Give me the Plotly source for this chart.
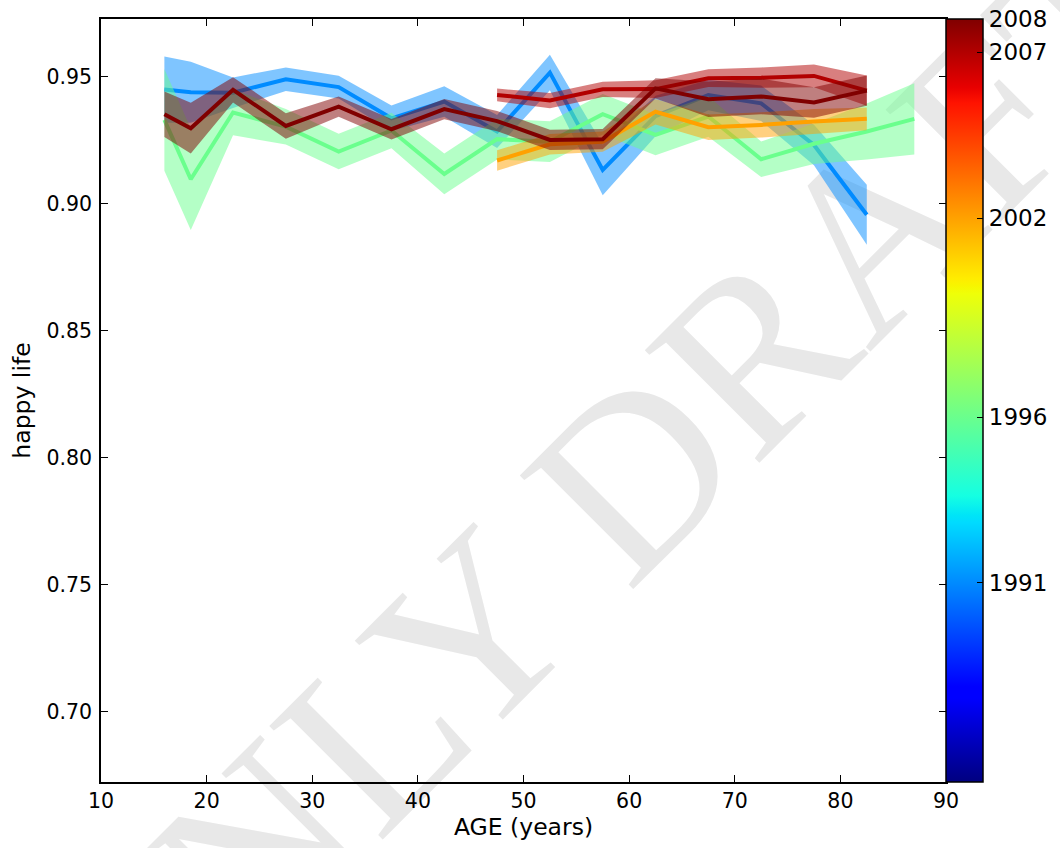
import numpy as np
import plotly.graph_objects as go

# ---------------- data ----------------
ages = [16, 18.5, 22.5, 27.5, 32.5, 37.5, 42.5, 47.5, 52.5, 57.5, 62.5, 67.5, 72.5, 77.5, 82.5]
ages_1996 = ages + [87]
ages_late = [47.5, 52.5, 57.5, 62.5, 67.5, 72.5, 77.5, 82.5]

y1991 = [0.9450, 0.9440, 0.9438, 0.9491, 0.9460, 0.9337, 0.9403, 0.9285, 0.9517, 0.9134, 0.9346, 0.9429, 0.9396, 0.9232, 0.8957]
hw1991 = [0.013, 0.012, 0.006, 0.0046, 0.0045, 0.005, 0.006, 0.0065, 0.007, 0.010, 0.008, 0.006, 0.007, 0.008, 0.0118]

y1996 = [0.9331, 0.9097, 0.9360, 0.9304, 0.9206, 0.9289, 0.9118, 0.9255, 0.9245, 0.9353, 0.9272, 0.9344, 0.9176, 0.9237, 0.9285, 0.9335]
hw1996 = [0.020, 0.020, 0.009, 0.007, 0.007, 0.007, 0.008, 0.008, 0.008, 0.008, 0.008, 0.008, 0.007, 0.008, 0.011, 0.014]

y2002 = [0.9171, 0.9235, 0.9245, 0.9363, 0.9302, 0.9311, 0.9324, 0.9335]
hw2002 = [0.004, 0.004, 0.004, 0.005, 0.005, 0.005, 0.005, 0.0045]

y2007 = [0.9429, 0.9407, 0.9451, 0.9452, 0.9495, 0.9497, 0.9504, 0.9446]
hw2007 = [0.0025, 0.003, 0.003, 0.0035, 0.0035, 0.004, 0.0045, 0.006]

y2008 = [0.9353, 0.9298, 0.9449, 0.9307, 0.9383, 0.9294, 0.9373, 0.9326, 0.9252, 0.9255, 0.9455, 0.9412, 0.9423, 0.9399, 0.9446]
hw2008 = [0.009, 0.010, 0.005, 0.005, 0.004, 0.004, 0.004, 0.004, 0.004, 0.004, 0.004, 0.007, 0.007, 0.006, 0.006]

series = [
    (1991, ages, y1991, hw1991),
    (1996, ages_1996, y1996, hw1996),
    (2002, ages_late, y2002, hw2002),
    (2007, ages_late, y2007, hw2007),
    (2008, ages, y2008, hw2008),
]

cbar_min, cbar_max = 1985, 2008
cbar_ticks = [1991, 1996, 2002, 2007, 2008]
x_ticks = [10, 20, 30, 40, 50, 60, 70, 80, 90]
y_ticks = [0.70, 0.75, 0.80, 0.85, 0.90, 0.95]

# ---------------- matplotlib "jet" colormap ----------------
_r = ([0, 0.35, 0.66, 0.89, 1], [0, 0, 1, 1, 0.5])
_g = ([0, 0.125, 0.375, 0.64, 0.91, 1], [0, 0, 1, 1, 0, 0])
_b = ([0, 0.11, 0.34, 0.65, 1], [0.5, 1, 1, 0, 0])


def jet(f):
    r = np.interp(f, *_r)
    g = np.interp(f, *_g)
    b = np.interp(f, *_b)
    return int(round(r * 255)), int(round(g * 255)), int(round(b * 255))


stops = sorted(set(_r[0] + _g[0] + _b[0]))
jet_scale = [[s, "rgb(%d,%d,%d)" % jet(s)] for s in stops]

fig = go.Figure()

for year, xs, ys, hws in series:
    f = (year - cbar_min) / (cbar_max - cbar_min)
    r, g, b = jet(f)
    ys = np.array(ys)
    hws = np.array(hws)
    upper = ys + hws
    lower = ys - hws
    fig.add_trace(go.Scatter(
        x=list(xs) + list(xs)[::-1],
        y=list(upper) + list(lower)[::-1],
        fill="toself", fillcolor="rgba(%d,%d,%d,0.5)" % (r, g, b),
        line=dict(width=0), mode="lines", hoverinfo="skip", showlegend=False,
    ))
    fig.add_trace(go.Scatter(
        x=xs, y=ys, mode="lines",
        line=dict(color="rgb(%d,%d,%d)" % (r, g, b), width=4),
        showlegend=False, name=str(year),
    ))

# colorbar
fig.add_trace(go.Scatter(
    x=[None], y=[None], mode="markers", showlegend=False, hoverinfo="skip",
    marker=dict(
        color=[cbar_min], cmin=cbar_min, cmax=cbar_max, colorscale=jet_scale,
        showscale=True,
        colorbar=dict(
            thickness=37, thicknessmode="pixels", len=1, lenmode="fraction",
            x=1.0, xanchor="left", xpad=0, y=0.5, yanchor="middle", ypad=0,
            outlinewidth=1.5, outlinecolor="black",
            tickvals=cbar_ticks, ticktext=[str(t) for t in cbar_ticks],
            ticks="inside", ticklen=6, tickcolor="black", tickwidth=1,
            ticklabeloverflow="allow",
            tickfont=dict(family="DejaVu Sans", size=23, color="black"),
        ),
    ),
))

axis_common = dict(
    showline=True, linecolor="black", linewidth=1.5, mirror="ticks",
    ticks="inside", ticklen=7, tickwidth=1, tickcolor="black",
    showgrid=False, zeroline=False, automargin=False,
    tickfont=dict(family="DejaVu Sans", size=20.5, color="black"),
)

fig.update_layout(
    width=1060, height=848,
    margin=dict(l=101, r=114, t=19, b=66, autoexpand=False),
    paper_bgcolor="white", plot_bgcolor="rgba(0,0,0,0)",
    xaxis=dict(range=[10, 90], tickvals=x_ticks,
               title=dict(text="AGE (years)", font=dict(family="DejaVu Sans", size=23.5, color="black"), standoff=4),
               **axis_common),
    yaxis=dict(range=[0.6724, 0.9728], tickvals=y_ticks, tickformat=".2f",
               ticklabelstandoff=3,
               title=dict(text="happy life", font=dict(family="DejaVu Sans", size=23.5, color="black"), standoff=9),
               **axis_common),
    shapes=[dict(
        type="rect", xref="paper", yref="paper",
        x0=0.572 - 0.3, x1=0.572 + 0.3, y0=0.392 - 0.3, y1=0.392 + 0.3,
        line=dict(width=0), fillcolor="rgba(0,0,0,0)", layer="below",
        label=dict(text="ONLY DRAFT", textangle=-45, textposition="middle center",
                   font=dict(family="Liberation Serif", size=245, color="rgb(232,232,232)")),
    )],
)

fig.write_html("out.html", config={"displayModeBar": False},
               post_script="document.body.style.margin='0px';")
